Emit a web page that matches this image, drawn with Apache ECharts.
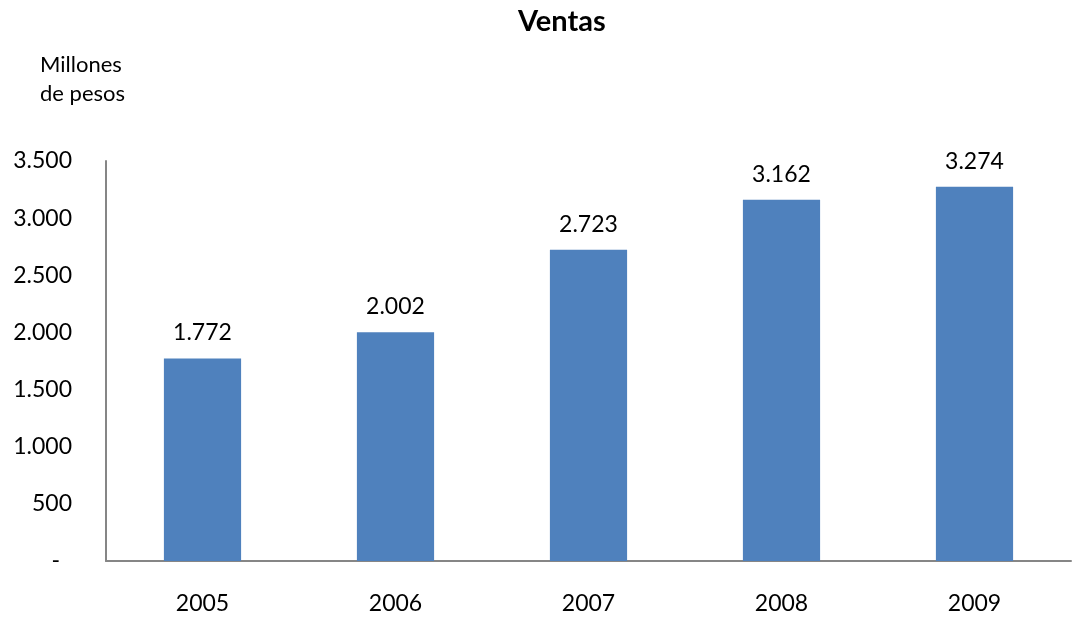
<!DOCTYPE html>
<html><head><meta charset="utf-8">
<script src="https://cdn.jsdelivr.net/npm/echarts@6/dist/echarts.min.js"></script>
<style>html,body{margin:0;padding:0;background:#fff}#c{width:1076px;height:621px}</style>
</head><body><div id="c"></div>
<script>
const categories = ['2005','2006','2007','2008','2009'];
const ventas = [1772, 2002, 2723, 3162, 3274];
const yTicks = [0, 500, 1000, 1500, 2000, 2500, 3000, 3500];

function fmt(v){ if(v===0) return '-'; return String(v).replace(/\B(?=(\d{3})+(?!\d))/g,'.'); }
const FONT = 'Lato, "Open Sans", sans-serif';
const chart = echarts.init(document.getElementById('c'));
chart.setOption({
  animation:false,
  title:{text:'Ventas', left:513, top:2, textStyle:{fontFamily:FONT, fontSize:29, fontWeight:'bold', color:'#000'}},
  graphic:[{type:'text', left:40, top:50, style:{text:'Millones\nde pesos', font:'22px '+FONT, fill:'#000', lineHeight:29}}],
  grid:{left:106, right:5, top:161, bottom:60, containLabel:false},
  xAxis:{type:'category', data:categories,
    axisLine:{lineStyle:{color:'#868686', width:2}}, axisTick:{show:false},
    axisLabel:{fontFamily:FONT, fontSize:23, color:'#000', margin:31}},
  yAxis:{type:'value', min:yTicks[0], max:yTicks[yTicks.length-1], interval:500,
    splitLine:{show:false}, axisTick:{show:false},
    axisLine:{show:true, lineStyle:{color:'#868686', width:2}},
    axisLabel:{fontFamily:FONT, fontSize:23, color:'#000', margin:34,
      formatter:v => v===0 ? '{d|-}' : fmt(v),
      rich:{d:{fontFamily:FONT, fontSize:23, color:'#000', padding:[0,12,0,0]}}}},
  series:[{type:'bar', data:ventas, barWidth:'40%', itemStyle:{color:'#4F81BD'},
    label:{show:true, position:'top', distance:14, fontFamily:FONT, fontSize:23, color:'#000', formatter:p=>fmt(p.value)}}]
});
</script></body></html>
